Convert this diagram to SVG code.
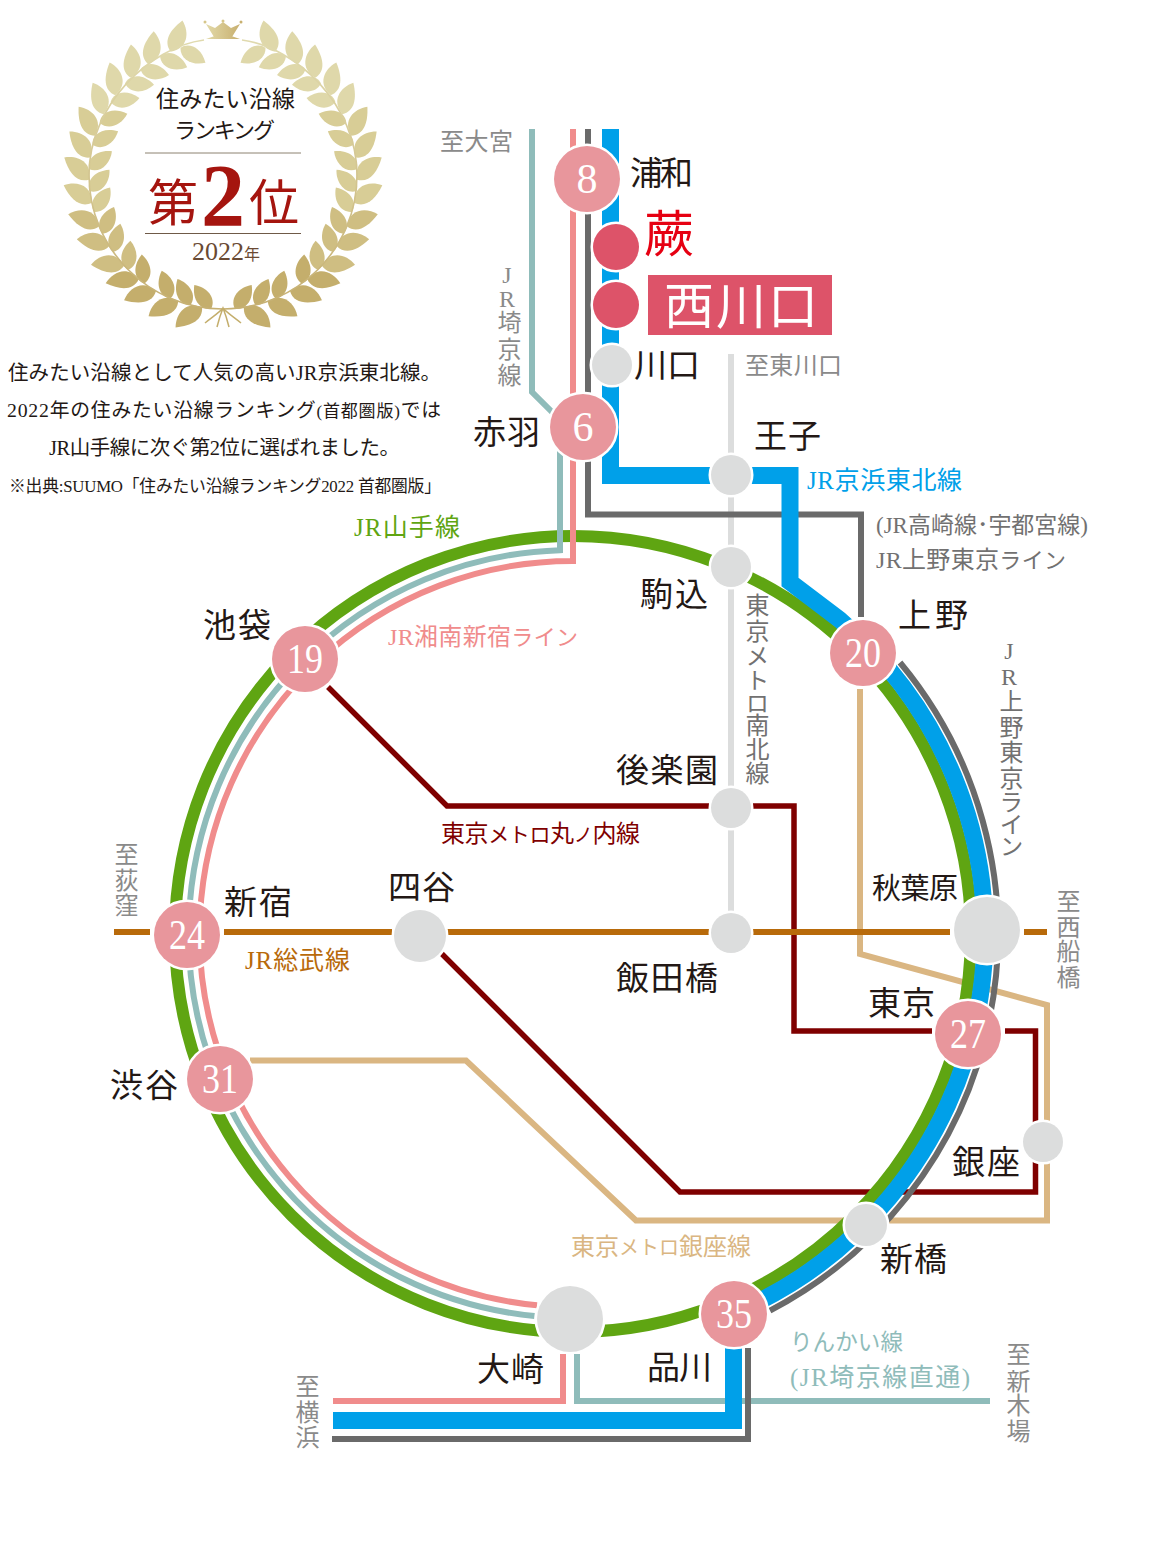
<svg xmlns="http://www.w3.org/2000/svg" xmlns:xlink="http://www.w3.org/1999/xlink" width="1151" height="1557" viewBox="0 0 1151 1557">
<style>
text{font-family:"Liberation Serif","Noto Sans CJK JP",serif;fill:#231815}
.l{fill:none;stroke-linejoin:miter}
.green{stroke:#5fa512;stroke-width:12}
.teal{stroke:#8fbcba;stroke-width:6}
.pink{stroke:#f08c8c;stroke-width:6}
.blue{stroke:#00a0e9;stroke-width:17}
.dark{stroke:#6a6a6a;stroke-width:6}
.nanboku{stroke:#dcdddd;stroke-width:6}
.maru{stroke:#7f0000;stroke-width:5.5}
.ginza{stroke:#dab682;stroke-width:6}
.sobu{stroke:#b86a0a;stroke-width:6}
.st{fill:#e8969c;stroke:#fff;stroke-width:5;paint-order:stroke}
.sm{fill:#dcdddd;stroke:#fff;stroke-width:5;paint-order:stroke}
.hl{fill:#dd5369;stroke:#fff;stroke-width:5;paint-order:stroke}
.num{fill:#fff;font-size:42px;text-anchor:middle}
.nm{font-size:33px}
.g{fill:#8a8a8a;font-size:24px}
.lab{font-size:25px}
.v{writing-mode:vertical-rl;text-orientation:upright}
.body{font-size:20.5px}
.c1{fill:#dfd8aa}.c2{fill:#d8cd96}.c3{fill:#cfbe82}.c4{fill:#c4ae6c}
</style>
<defs>
<path id="lo" d="M223 41C220 29 230 21 246 17C248 31 240 45 223 41Z"/>
<path id="li" d="M223 41C232 38 243 46 242 63C229 62 219 52 223 41Z"/>
<linearGradient id="cr" x1="0" y1="0" x2="1" y2="0"><stop offset="0" stop-color="#e2d9a8"/><stop offset="1" stop-color="#c8b070"/></linearGradient>
<linearGradient id="ring" x1="0" y1="0" x2="0" y2="1"><stop offset="0" stop-color="#e0daae"/><stop offset="1" stop-color="#c6b072"/></linearGradient>
</defs>

<g id="badge">
<g id="wreath-left">
<use href="#lo" class="c1" transform="rotate(-23 223 175)"/>
<use href="#lo" class="c1" transform="rotate(-34 223 175)"/>
<use href="#lo" class="c1" transform="rotate(-43.5 223 175)"/>
<use href="#lo" class="c1" transform="rotate(-53.5 223 175)"/>
<use href="#lo" class="c1" transform="rotate(-63 223 175)"/>
<use href="#lo" class="c2" transform="rotate(-73 223 175)"/>
<use href="#lo" class="c2" transform="rotate(-82.5 223 175)"/>
<use href="#lo" class="c2" transform="rotate(-92 223 175)"/>
<use href="#lo" class="c2" transform="rotate(-102 223 175)"/>
<use href="#lo" class="c3" transform="rotate(-112.5 223 175)"/>
<use href="#lo" class="c3" transform="rotate(-122 223 175)"/>
<use href="#lo" class="c3" transform="rotate(-132.5 223 175)"/>
<use href="#lo" class="c4" transform="rotate(-141 223 175)"/>
<use href="#lo" class="c4" transform="rotate(-150 223 175)"/>
<use href="#lo" class="c4" transform="rotate(-160.5 223 175)"/>
<use href="#lo" class="c4" transform="rotate(-171 223 175)"/>
<use href="#li" class="c1" transform="rotate(-18.5 223 175)"/>
<use href="#li" class="c1" transform="rotate(-28 223 175)"/>
<use href="#li" class="c1" transform="rotate(-38 223 175)"/>
<use href="#li" class="c1" transform="rotate(-47 223 175)"/>
<use href="#li" class="c1" transform="rotate(-57 223 175)"/>
<use href="#li" class="c2" transform="rotate(-67 223 175)"/>
<use href="#li" class="c2" transform="rotate(-77 223 175)"/>
<use href="#li" class="c2" transform="rotate(-87.5 223 175)"/>
<use href="#li" class="c2" transform="rotate(-97 223 175)"/>
<use href="#li" class="c2" transform="rotate(-106 223 175)"/>
<use href="#li" class="c3" transform="rotate(-116 223 175)"/>
<use href="#li" class="c3" transform="rotate(-125 223 175)"/>
<use href="#li" class="c3" transform="rotate(-135 223 175)"/>
<use href="#li" class="c4" transform="rotate(-144 223 175)"/>
<use href="#li" class="c4" transform="rotate(-157 223 175)"/>
<use href="#li" class="c4" transform="rotate(-166 223 175)"/>
<use href="#li" class="c4" transform="rotate(-175 223 175)"/>
</g>
<use href="#wreath-left" transform="translate(446 0) scale(-1 1)"/>
<path d="M204 40C150 47 89 105 89 175C89 249 149 309 223 309C297 309 357 249 357 175C357 105 296 47 242 40" fill="none" stroke="url(#ring)" stroke-width="1.6"/>
<path d="M205 323C212 317 219 313 223 308C227 313 234 317 241 323M217 327C219 319 221 313 223 308C225 313 227 319 229 327" fill="none" stroke="#c4ae6c" stroke-width="1.5"/>
<path d="M206 39C212 37 214 36 214 37L206 24L215 28L223 22L231 28L240 24L232 37C232 36 234 37 240 39Z" fill="url(#cr)"/>
<circle cx="205" cy="22" r="1.5" fill="#d6c68a"/><circle cx="223" cy="21" r="1.5" fill="#d6c68a"/><circle cx="241" cy="22" r="1.5" fill="#c8b070"/>
<text x="225.5" y="107" font-size="23" text-anchor="middle" textLength="139">住みたい沿線</text>
<text x="224.5" y="138" font-size="22" text-anchor="middle" textLength="101">ランキング</text>
<path d="M145 153H301" stroke="#8c8270" stroke-width="1"/>
<path d="M145 233.500H301" stroke="#6f5a48" stroke-width="1"/>
<text x="148" y="221" font-size="50" style="fill:#a5150f">第<tspan x="201" y="225" font-size="88" font-weight="bold">2</tspan><tspan x="249" y="221" font-size="50">位</tspan></text>
<text x="192" y="260" font-size="26" style="fill:#6a4a33">2022<tspan font-size="16">年</tspan></text>
</g>

<g id="description">
<text class="body" x="8" y="380" textLength="433">住みたい沿線として人気の高いJR京浜東北線。</text>
<text x="7" y="417" font-size="19.800" textLength="434">2022年の住みたい沿線ランキング<tspan font-size="17">(首都圏版)</tspan>では</text>
<text class="body" x="49" y="455" textLength="351">JR山手線に次ぐ第2位に選ばれました。</text>
<text x="9" y="492" font-size="16.800" textLength="432">※出典:SUUMO「住みたい沿線ランキング2022 首都圏版」</text>
</g>

<g id="connectors">
<path class="l ginza" d="M860 689V954L1047 1005V1220.500H636L466 1060.500H250"/>
<path class="l maru" d="M328 687L447 806H794V1031H932M1005 1031H1035.500V1192H680L440 952"/>
<path class="l nanboku" d="M731 354V935"/>
<circle cx="573" cy="934" r="398" class="l green"/>
<path class="l teal" d="M532 129V392L560 420V550.200A384 384 0 0 0 534.500 1316.100"/>
<path class="l pink" d="M573 129V561A373 373 0 0 0 537 1305.300"/>
<path class="l dark" d="M588 129V514.500H861V617M900 662.500A425 425 0 0 1 770 1310.600"/>
<path class="l blue" d="M610.500 129V475.500H790V582L840 620A412 412 0 0 1 734 1313"/>
<path class="l sobu" d="M114 932H150M224 932H392M446 932H710M752 932H950M1024 932H1047"/>
<path class="l pink" d="M563 1354V1401H333"/>
<path class="l teal" d="M577 1354V1401H990"/>
<path class="l blue" d="M733.500 1346V1420.500H333"/>
<path class="l dark" d="M748 1348V1439H332"/>
</g>

<g id="line-labels">
<text class="g" x="440" y="150" textLength="73">至大宮</text>
<text class="g v" x="507" y="262 286 310 337 363">JR埼京線</text>
<text class="g" x="745" y="374" textLength="97">至東川口</text>
<text class="lab" x="807" y="489" textLength="155" style="fill:#00a0e9">JR京浜東北線</text>
<text class="lab" x="876" y="533" textLength="212" style="fill:#727171;font-size:23px">(JR高崎線･宇都宮線)</text>
<text class="lab" x="876" y="568" textLength="190" style="fill:#727171;font-size:24px">JR上野東京<tspan font-size="22">ライン</tspan></text>
<text class="lab" x="354" y="536" textLength="106" style="fill:#5fa512">JR山手線</text>
<text class="lab" x="388" y="645" textLength="190" style="fill:#f08c8c;font-size:24px">JR湘南新宿<tspan font-size="22">ライン</tspan></text>
<text class="g v" x="755" y="593 619 644 668 691 713 737 761" style="fill:#727171">東京メトロ南北線</text>
<text class="g v" x="1009" y="638 664 689 715 740 766 790 812 834" style="fill:#727171">JR上野東京ライン</text>
<text class="lab" x="441" y="842" textLength="199" style="fill:#7f0000;font-size:24px">東京<tspan font-size="21">メトロ</tspan>丸<tspan font-size="19">ノ</tspan>内線</text>
<text class="lab" x="245" y="969" textLength="105" style="fill:#b86a0a">JR総武線</text>
<text class="g v" x="124" y="842 868 893">至荻窪</text>
<text class="g v" x="1066" y="889 915 939 965">至西船橋</text>
<text class="lab" x="571" y="1255" textLength="180" style="fill:#dab682;font-size:24px">東京<tspan font-size="20">メトロ</tspan>銀座線</text>
<text class="lab" x="790" y="1350" textLength="113" style="fill:#8fbcba;font-size:22.500px">りんかい線</text>
<text class="lab" x="790" y="1386" textLength="180" style="fill:#8fbcba">(JR埼京線直通)</text>
<text class="g v" x="305" y="1374 1400 1425">至横浜</text>
<text class="g v" x="1016" y="1342 1369 1393 1419">至新木場</text>
</g>

<g id="st-urawa"><circle class="st" cx="587" cy="179" r="33"/><text class="num" x="587" y="193">8</text><text class="nm" x="630" y="185" textLength="63">浦和</text></g>
<g id="st-warabi"><circle class="hl" cx="616" cy="247" r="23"/><text x="644" y="252" font-size="50" style="fill:#e60012">蕨</text></g>
<g id="st-nishikawaguchi"><circle class="hl" cx="616" cy="305" r="23"/><rect x="648" y="275" width="184" height="60" fill="#dd5369"/><text x="664" y="324" font-size="50" textLength="154" style="fill:#fff">西川口</text></g>
<g id="st-kawaguchi"><circle class="sm" cx="612" cy="365" r="20"/><text class="nm" x="634" y="377" textLength="66">川口</text></g>
<g id="st-akabane"><circle class="st" cx="583" cy="427" r="33"/><text class="num" x="583" y="441">6</text><text class="nm" x="473" y="444" textLength="67">赤羽</text></g>
<g id="st-oji"><circle class="sm" cx="731" cy="475" r="20"/><text class="nm" x="754" y="448" textLength="67">王子</text></g>
<g id="st-komagome"><circle class="sm" cx="731" cy="567" r="20"/><text class="nm" x="640" y="606" textLength="68">駒込</text></g>
<g id="st-ueno"><circle class="st" cx="863" cy="653" r="33"/><text class="num" x="863" y="667" textLength="36" lengthAdjust="spacingAndGlyphs">20</text><text class="nm" x="898" y="627" textLength="70">上野</text></g>
<g id="st-ikebukuro"><circle class="st" cx="305" cy="659" r="33"/><text class="num" x="305" y="673" textLength="36" lengthAdjust="spacingAndGlyphs">19</text><text class="nm" x="203" y="637" textLength="68">池袋</text></g>
<g id="st-korakuen"><circle class="sm" cx="731" cy="808" r="20"/><text class="nm" x="616" y="782" textLength="102">後楽園</text></g>
<g id="st-iidabashi"><circle class="sm" cx="731" cy="933" r="20"/><text class="nm" x="616" y="990" textLength="102">飯田橋</text></g>
<g id="st-yotsuya"><circle class="sm" cx="420" cy="936" r="26"/><text class="nm" x="388" y="899" textLength="67">四谷</text></g>
<g id="st-shinjuku"><circle class="st" cx="187" cy="935" r="33"/><text class="num" x="187" y="949" textLength="36" lengthAdjust="spacingAndGlyphs">24</text><text class="nm" x="224" y="914" textLength="68">新宿</text></g>
<g id="st-akihabara"><circle class="sm" cx="987" cy="930" r="33"/><text class="nm" x="872" y="899" textLength="86" style="font-size:29px">秋葉原</text></g>
<g id="st-tokyo"><circle class="st" cx="968" cy="1034" r="33"/><text class="num" x="968" y="1048" textLength="36" lengthAdjust="spacingAndGlyphs">27</text><text class="nm" x="868" y="1015" textLength="67">東京</text></g>
<g id="st-shibuya"><circle class="st" cx="220" cy="1079" r="33"/><text class="num" x="220" y="1093" textLength="36" lengthAdjust="spacingAndGlyphs">31</text><text class="nm" x="110" y="1097" textLength="68">渋谷</text></g>
<g id="st-ginza"><circle class="sm" cx="1043" cy="1142" r="20"/><text class="nm" x="952" y="1174" textLength="68">銀座</text></g>
<g id="st-shimbashi"><circle class="sm" cx="866" cy="1225" r="21"/><text class="nm" x="880" y="1271" textLength="67">新橋</text></g>
<g id="st-osaki"><circle class="sm" cx="570" cy="1319" r="33"/><text class="nm" x="477" y="1381" textLength="67">大崎</text></g>
<g id="st-shinagawa"><circle class="st" cx="734" cy="1314" r="33"/><text class="num" x="734" y="1328" textLength="36" lengthAdjust="spacingAndGlyphs">35</text><text class="nm" x="647" y="1379" textLength="65">品川</text></g>
</svg>
